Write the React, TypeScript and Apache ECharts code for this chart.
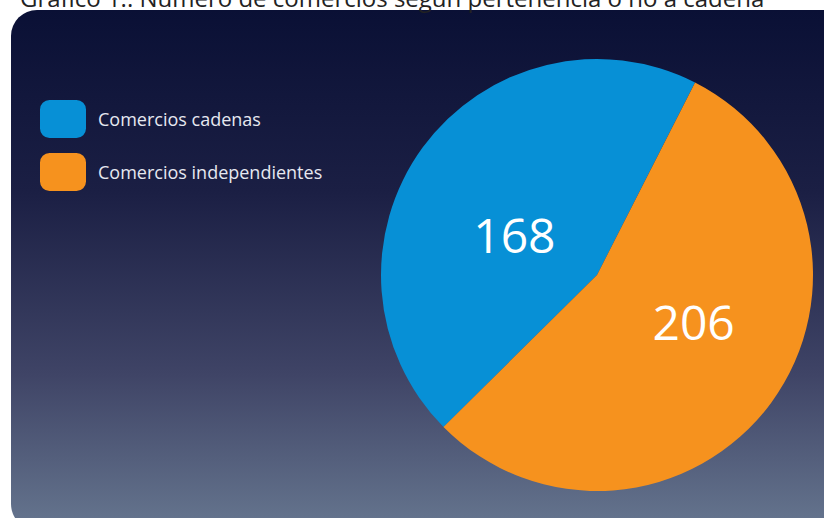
import React, { useEffect, useRef } from "react";
import * as echarts from "echarts";

const titleText = "Gráfico 1.: Número de comercios según pertenencia o no a cadena";
const categories = ["Comercios cadenas", "Comercios independientes"];
const values = [168, 206];
const colors = ["#0790d6", "#f6921e"];
const labelShift = [
  [7, 25],
  [7, -19],
];

export default function App() {
  const ref = useRef<HTMLDivElement>(null);
  useEffect(() => {
    document.body.style.margin = "0";
    const chart = echarts.init(ref.current!, null, { renderer: "svg" });
    chart.setOption({
      animation: false,
      title: {
        text: titleText,
        left: 20,
        top: -15,
        padding: 0,
        textStyle: { fontFamily: "Open Sans", fontSize: 24, fontWeight: "normal", color: "#222" },
      },
      graphic: [
        {
          type: "rect",
          z: -10,
          shape: { x: 11, y: 10, width: 840, height: 520, r: 26 },
          style: {
            fill: new echarts.graphic.LinearGradient(0, 0, 0, 1, [
              { offset: 0, color: "#0a1035" },
              { offset: 0.35, color: "#1b1f44" },
              { offset: 0.7, color: "#3f4466" },
              { offset: 1, color: "#66768f" },
            ]),
          },
        },
      ],
      legend: {
        orient: "vertical",
        left: 40,
        top: 100,
        padding: 0,
        itemWidth: 46,
        itemHeight: 38,
        itemGap: 15,
        icon: "roundRect",
        textStyle: { fontFamily: "Open Sans", fontSize: 18, color: "#e6e8f0", padding: [0, 0, 0, 7] },
        data: categories,
      },
      series: [
        {
          type: "pie",
          center: [597, 275],
          radius: 216,
          startAngle: 63,
          clockwise: false,
          label: {
            show: true,
            position: "inside",
            formatter: "{c}",
            fontFamily: "Open Sans",
            fontSize: 48,
            color: "#ffffff",
          },
          labelLine: { show: false },
          labelLayout: (p: any) => ({ dx: labelShift[p.dataIndex][0], dy: labelShift[p.dataIndex][1] }),
          emphasis: { disabled: true },
          data: categories.map((c, i) => ({ name: c, value: values[i], itemStyle: { color: colors[i] } })),
        },
      ],
    });
    return () => chart.dispose();
  }, []);
  return <div ref={ref} style={{ width: 824, height: 518 }} />;
}
